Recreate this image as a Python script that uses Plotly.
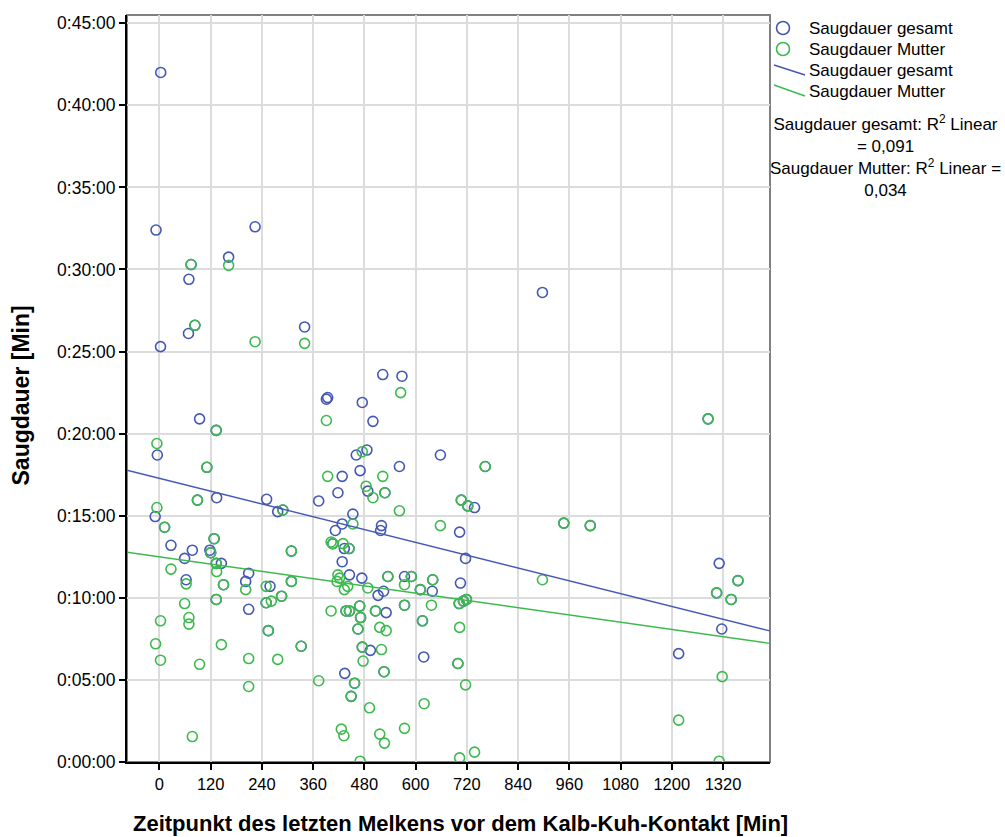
import plotly.graph_objects as go

# ---- data (x: minutes, y: suckling duration in minutes) ----
gesamt_x = [3, -8, 74, 69, 162, 224, 83, 68, 2.5, 340, 523, 568, 897, 391, 394, 475, 500, 94, 133, -5,
            111, 461, 486, 658, 89, 134, 251, 277, 289, 373, -10, 12, 27, 77, 59, 128, 118, 120, 62.5, 133,
            145, 150, 133, 209, 202, 209, 309, 259, 250, 286, 309, 332, 255, 763, 428, 470, 562, 418, 488, 528,
            707, 722, 738, 703, 717, 453, 428, 412, 520, 518, 406, 444, 433, 428, 445, 474, 535, 574, 590, 705,
            640, 512, 525, 611, 639, 702, 712, 719, 574, 437, 445, 469, 506, 531, 471, 465, 616, 475, 494, 619,
            699, 434, 526, 457, 449, 1285, 947, 1009, 1311, 1355, 1305, 1339, 1317, 1216]
gesamt_y = [42.0, 32.4, 30.3, 29.4, 30.75, 32.6, 26.6, 26.1, 25.3, 26.5, 23.6, 23.5, 28.6, 22.1, 22.2, 21.9, 20.75, 20.9, 20.2, 18.7,
            17.95, 18.7, 19.0, 18.7, 15.95, 16.1, 16.0, 15.25, 15.35, 15.9, 14.95, 14.3, 13.2, 12.9, 12.4, 13.6, 12.9, 12.75, 11.1, 12.1,
            12.1, 10.8, 9.9, 11.5, 11.0, 9.3, 12.85, 10.7, 9.7, 10.1, 11.0, 7.05, 8.0, 18.0, 17.4, 17.75, 18.0, 16.4, 16.5, 16.4,
            15.95, 15.6, 15.5, 14.0, 12.4, 15.1, 14.5, 14.1, 14.4, 14.1, 13.3, 13.0, 13.0, 12.2, 11.4, 11.2, 11.3, 11.3, 11.3, 10.9,
            11.1, 10.15, 10.4, 10.5, 10.4, 9.65, 9.8, 9.9, 9.55, 9.2, 9.2, 9.5, 9.2, 9.1, 8.8, 8.1, 8.6, 7.0, 6.8, 6.4,
            6.0, 5.4, 5.5, 4.8, 4.0, 20.9, 14.55, 14.4, 12.1, 11.05, 10.3, 9.9, 8.1, 6.6]

mutter_x = [74, 162, 83, 224, 340, 565, 391, 133, -6, 111, 475, 89, 289, -6, 12, 128, 120, 27, 62.5, 133,
            134, 150, 133, 202, 309, 250, 250, 262, 286, 309, 332, 277, 255, 209, 209, 145, 94, -9, 2.5, 2.5,
            59, 69, 69, 77, 373, 763, 394, 523, 484, 500, 528, 562, 707, 722, 658, 453, 406, 402, 430, 444,
            418, 422, 416, 441, 433, 488, 535, 590, 574, 640, 611, 702, 712, 719, 637, 574, 402, 437, 445, 469,
            506, 471, 465, 516, 531, 616, 703, 475, 520, 477, 699, 526, 457, 717, 449, 492, 620, 426, 432, 516,
            527, 574, 470, 703, 738, 1285, 947, 1009, 897, 1355, 1305, 1339, 1318, 1216, 1311]
mutter_y = [30.3, 30.25, 26.6, 25.6, 25.5, 22.5, 20.8, 20.2, 19.4, 17.95, 18.9, 15.95, 15.35, 15.5, 14.3, 13.6, 12.75, 11.75, 10.85, 12.1,
            11.6, 10.8, 9.9, 10.5, 12.85, 10.7, 9.7, 9.8, 10.1, 11.0, 7.05, 6.25, 8.0, 6.3, 4.6, 7.15, 5.95, 7.2, 6.2, 8.6,
            9.65, 8.8, 8.4, 1.55, 4.95, 18.0, 17.4, 17.4, 16.8, 16.1, 16.4, 15.3, 15.95, 15.6, 14.4, 14.5, 13.3, 13.4, 13.3, 13.0,
            11.4, 11.2, 11.0, 10.7, 10.5, 10.6, 11.3, 11.3, 10.8, 11.1, 10.5, 9.65, 9.8, 9.9, 9.55, 9.55, 9.2, 9.2, 9.2, 9.5,
            9.2, 8.8, 8.1, 8.2, 8.0, 8.6, 8.2, 7.0, 6.85, 6.15, 6.0, 5.5, 4.8, 4.7, 4.0, 3.3, 3.55, 2.0, 1.6, 1.7,
            1.15, 2.05, 0.05, 0.25, 0.6, 20.9, 14.55, 14.4, 11.1, 11.05, 10.3, 9.9, 5.2, 2.55, 0.05]

# fit lines (intercept in minutes, slope in minutes per minute)
fit_gesamt = (17.28, -0.0065)
fit_mutter = (12.5, -0.00369)
r2_gesamt = "0,091"
r2_mutter = "0,034"

series_names = ["Saugdauer gesamt", "Saugdauer Mutter"]

x_ticks = list(range(0, 1321, 120))
y_ticks = list(range(0, 46, 5))
y_ticktext = ["0:%02d:00" % v for v in y_ticks]
x_range = [-76, 1430]
y_range = [0, 45.5]

BLUE = "#4457b5"
GREEN = "#3dba4e"
FONT = "Liberation Sans, Arial, sans-serif"

W, H = 1005, 837
ML, MR, MT, MB = 127, 235, 15, 75
PW, PH = W - ML - MR, H - MT - MB


def px(p):
    return (p - ML) / PW


def py(p):
    return 1 - (p - MT) / PH


fig = go.Figure()
fig.add_trace(go.Scatter(x=gesamt_x, y=gesamt_y, mode="markers", name=series_names[0],
                         marker=dict(symbol="circle-open", size=10, color=BLUE, line=dict(width=1.6, color=BLUE))))
fig.add_trace(go.Scatter(x=mutter_x, y=mutter_y, mode="markers", name=series_names[1],
                         marker=dict(symbol="circle-open", size=10, color=GREEN, line=dict(width=1.6, color=GREEN))))
fig.add_trace(go.Scatter(x=x_range, y=[fit_gesamt[0] + fit_gesamt[1] * v for v in x_range], mode="lines",
                         name=series_names[0], line=dict(color=BLUE, width=1.4)))
fig.add_trace(go.Scatter(x=x_range, y=[fit_mutter[0] + fit_mutter[1] * v for v in x_range], mode="lines",
                         name=series_names[1], line=dict(color=GREEN, width=1.4)))

shapes = [dict(type="rect", xref="paper", yref="paper", x0=0, x1=1, y0=0, y1=1,
               line=dict(color="#808080", width=2), layer="below")]
# manual legend symbols
r = 6.5
for cy, col in [(28, BLUE), (49, GREEN)]:
    shapes.append(dict(type="circle", xref="paper", yref="paper",
                       x0=px(783 - r), x1=px(783 + r), y0=py(cy + r), y1=py(cy - r),
                       line=dict(color=col, width=1.6)))
for (y0, y1), col in [((65, 75), BLUE), ((85, 96), GREEN)]:
    shapes.append(dict(type="line", xref="paper", yref="paper",
                       x0=px(774), x1=px(805), y0=py(y0), y1=py(y1), line=dict(color=col, width=1.4)))

annotations = [
    dict(text="<b>Zeitpunkt des letzten Melkens vor dem Kalb-Kuh-Kontakt [Min]</b>", xref="paper", yref="paper",
         x=0.5, y=0, xanchor="center", yanchor="top", yshift=-47, xshift=12, showarrow=False,
         font=dict(size=22, family=FONT)),
    dict(text="<b>Saugdauer [Min]</b>", xref="paper", yref="paper", x=0, y=0.5, xanchor="center",
         yanchor="middle", xshift=-107, yshift=-7, textangle=-90, showarrow=False, font=dict(size=23, family=FONT)),
    dict(text=series_names[0] + ": R<sup>2</sup> Linear<br>= " + r2_gesamt +
              "<br>" + series_names[1] + ": R<sup>2</sup> Linear =<br>" + r2_mutter,
         xref="paper", yref="paper", x=px(885), y=py(110), xanchor="center", yanchor="top", align="center",
         showarrow=False, font=dict(size=17, family=FONT)),
]
for cy, name in zip([28.5, 49.5, 70, 91], series_names + series_names):
    annotations.append(dict(text=name, xref="paper", yref="paper", x=px(807), y=py(cy),
                            xanchor="left", yanchor="middle", showarrow=False, font=dict(size=17, family=FONT)))

fig.update_layout(
    width=W, height=H,
    margin=dict(l=ML, r=MR, t=MT, b=MB),
    paper_bgcolor="white", plot_bgcolor="white",
    font=dict(family=FONT, size=16, color="black"),
    showlegend=False,
    xaxis=dict(range=x_range, tickvals=x_ticks, showgrid=True, gridcolor="#dcdcdc", gridwidth=1.5,
               zeroline=False, showline=True, linecolor="black", linewidth=2,
               ticks="outside", ticklen=6, tickwidth=2, tickcolor="black",
               tickfont=dict(size=16.5, family=FONT)),
    yaxis=dict(range=y_range, tickvals=y_ticks, ticktext=y_ticktext, showgrid=True, gridcolor="#dcdcdc",
               gridwidth=1.5, zeroline=False, showline=True, linecolor="black", linewidth=2,
               ticks="outside", ticklen=6, tickwidth=2, tickcolor="black",
               tickfont=dict(size=17.5, family=FONT)),
    shapes=shapes,
    annotations=annotations,
)

fig.write_html("out.html")
